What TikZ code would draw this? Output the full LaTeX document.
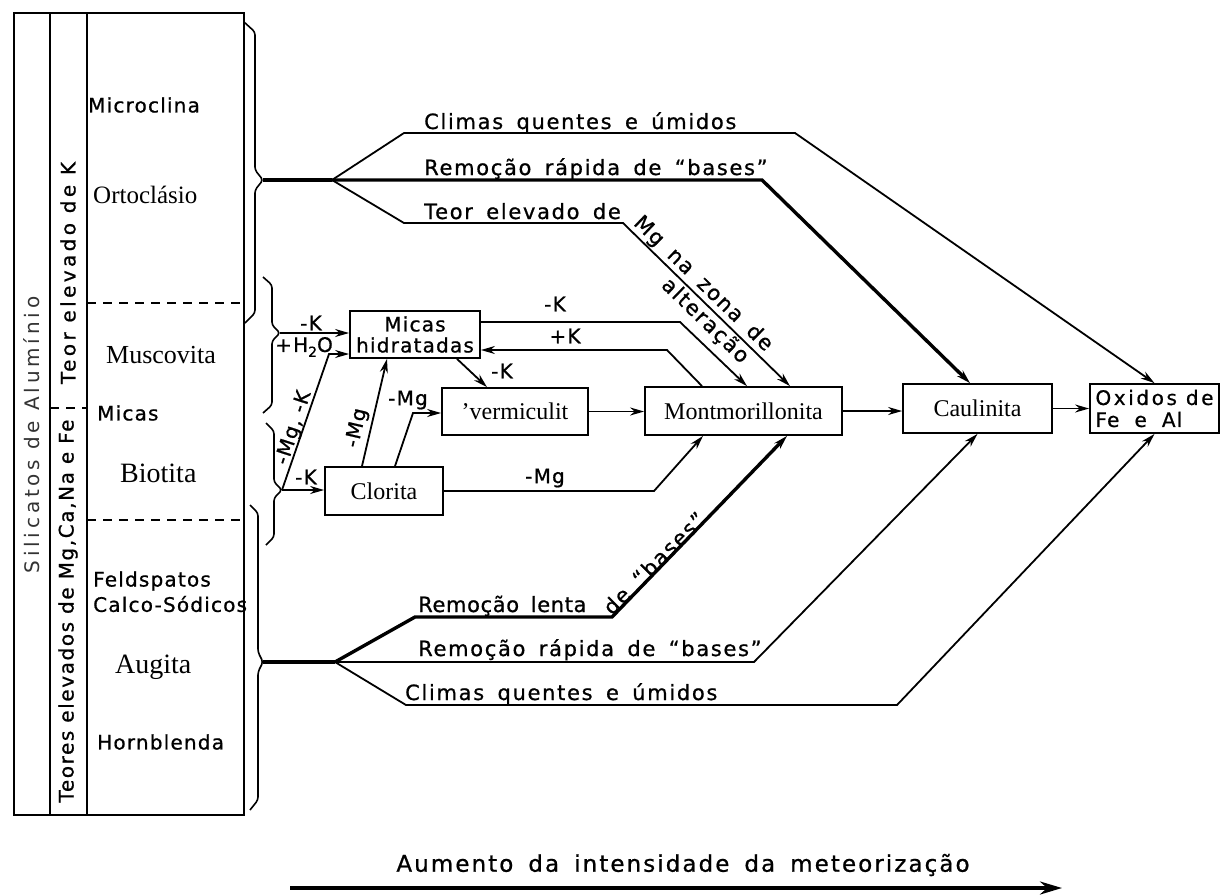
\documentclass[tikz,border=0pt]{standalone}
\usepackage{fontspec}
\setmainfont{Liberation Serif}
\newfontfamily\sfa[LetterSpace=6,FakeBold=0.8]{DejaVu Sans}
\newfontfamily\sfw[LetterSpace=8,WordSpace=1.6,FakeBold=0.8]{DejaVu Sans}
\newfontfamily\sfv[LetterSpace=19]{DejaVu Sans}
\usetikzlibrary{arrows.meta}
\newcommand\subtwo{\raisebox{-5pt}{\fontsize{14}{14}\selectfont 2}}
\begin{document}
\begin{tikzpicture}[x=1pt,y=-1pt,
  tbl/.style={line width=1.8pt},
  dsh/.style={line width=1.6pt, dash pattern=on 9pt off 7pt},
  brc/.style={line width=1.6pt, rounded corners=3pt},
  ln/.style={line width=1.8pt},
  thk/.style={line width=3.4pt},
  arr/.style={-{Stealth[length=14pt,width=8pt]}},
  box/.style={draw, line width=1.8pt, inner sep=0pt, anchor=center, align=center},
  sl/.style={font=\sfa\fontsize{20}{21}\selectfont, inner sep=0pt},
  sw/.style={font=\sfw\fontsize{21}{23}\selectfont, inner sep=0pt},
  ser/.style={font=\fontsize{24}{26}\selectfont, inner sep=0pt},
]
\useasboundingbox (0,0) rectangle (1222,895);
% ---- left table
\draw[tbl] (14,13) rectangle (244,815);
\draw[tbl] (50,13) -- (50,815);
\draw[tbl] (87,13) -- (87,815);
\draw[dsh] (87,303) -- (244,303);
\draw[dsh] (87,520) -- (244,520);
\draw[dsh] (50,408) -- (87,408);
\node[font=\sfv\fontsize{20}{21}\selectfont, inner sep=0pt, rotate=90, text=black!80] (silic) at (32,435) {Silicatos de Alumínio};
\node[sl, rotate=90] (teork) at (68,273) {\addfontfeature{LetterSpace=17}Teor elevado de K};
\node[sl, rotate=90] (teores) at (68,611) {\addfontfeature{LetterSpace=8}Teores elevados de Mg,Ca,Na e Fe};
\node[sl, anchor=west] (microc) at (88,105) {Microclina};
\node[ser, anchor=west, font=\fontsize{25}{27}\selectfont] (ortoc) at (93,195) {Ortoclásio};
\node[ser, anchor=west, font=\fontsize{26}{28}\selectfont] (musc) at (106,355) {Muscovita};
\node[sl, anchor=west] (micasl) at (97,413) {Micas};
\node[ser, anchor=west, font=\fontsize{28}{30}\selectfont] (biot) at (120,473) {Biotita};
\node[sl, anchor=west] (felds) at (93,581) {Feldspatos};
\node[sl, anchor=west] (calco) at (93,604) {Calco-Sódicos};
\node[ser, anchor=west, font=\fontsize{28}{30}\selectfont] (augi) at (115,667) {Augita};
\node[sl, anchor=west] (hornb) at (97,742) {Hornblenda};
% ---- braces
\draw[brc] (244,22) -- (255,32) -- (255,170) -- (263,180) -- (255,190) -- (255,313) -- (245,323);
\draw[brc] (263,277) -- (272,285) -- (272,325) -- (280,333) -- (272,341) -- (272,405) -- (263,413);
\draw[brc] (266,423) -- (274,431) -- (274,482) -- (282,490) -- (274,498) -- (274,537) -- (266,545);
\draw[brc] (250,505) -- (258,513) -- (258,652) -- (263,662) -- (258,672) -- (258,800) -- (250,810);
\coordinate (tipT) at (263,180);
\coordinate (tipM) at (280,333);
\coordinate (tipC) at (282,490);
\coordinate (tipB) at (263,662);
\coordinate (bT) at (332,180);
\coordinate (bB) at (335,662);
\coordinate (h2o) at (329,354);
% ---- boxes
\node[box, minimum width=130pt, minimum height=47pt, font=\sfa\fontsize{20}{21}\selectfont] (micas) at (415,334.5) {Micas\\hidratadas};
\node[box, minimum width=146pt, minimum height=47pt, ser] (verm) at (515,411.5) {'vermiculit};
\node[box, minimum width=197pt, minimum height=48pt, ser] (mont) at (743.5,411) {Montmorillonita};
\node[box, minimum width=149pt, minimum height=49pt, ser] (caul) at (977.5,408.5) {Caulinita};
\node[box, minimum width=129pt, minimum height=49pt, align=left, font=\sfa\fontsize{20}{22}\selectfont] (oxid) at (1154.5,408.5) {\addfontfeature{LetterSpace=13}Oxidos de\\Fe\ \ e\ \ Al};
\node[box, minimum width=118pt, minimum height=48pt, ser] (clor) at (384,491) {Clorita};
% ---- central connectors
\draw[ln,arr] (mont.east) -- (mont.east -| caul.west);
\draw[ln,arr] (caul.east) -- (caul.east -| oxid.west);
\draw[ln,arr] (verm.east) -- (verm.east -| mont.west);
\draw[ln,arr] ([yshift=12.5pt]micas.east) -- (680,322) -- ([xshift=3.5pt]mont.north);
\draw[ln,arr] ([xshift=-41.5pt]mont.north) -- (667,350) -- ([yshift=-15.5pt]micas.east);
\draw[ln,arr] ([xshift=42pt]micas.south) -- ([xshift=-28pt]verm.north);
\draw[ln,arr] ([xshift=-22pt]clor.north) -- ([xshift=-28pt]micas.south);
\draw[ln,arr] ([xshift=11pt]clor.north) -- (413,413) -- ([yshift=-1.5pt]verm.west);
\draw[ln,arr] (clor.east) -- (654,491) -- ([xshift=-40.5pt]mont.south);
\draw[ln,arr] (tipM) -- (tipM -| micas.west);
\draw[ln,arr] (tipC) -- (h2o) -- (h2o -| micas.west);
\draw[ln,arr] (tipC) -- (tipC -| clor.west);
% labels
\node[sl] (lk1) at (555,304) {-K};
\node[sl] (lk2) at (565,336) {+K};
\node[sl] (lk3) at (502,371) {-K};
\node[sl, rotate=77] (lmg1) at (357,428) {-Mg};
\node[sl] (lmg2) at (408,400) {-Mg};
\node[sl] (lmg3) at (545,478) {-Mg};
\node[sl] (lk4) at (311,323) {-K};
\node[sl] (lh2o) at (304,347) {+H\subtwo O};
\node[sl, rotate=72] (lmgk) at (294,428) {-Mg, -K};
\node[sl] (lk5) at (306,477) {-K};
% ---- top group
\draw[thk] (tipT) -- (bT);
\draw[ln,arr] (bT) -- (404,133) -- (795,133) -- (oxid.north);
\draw[thk,arr] (bT) -- (762,180) -- ([xshift=-7.5pt]caul.north);
\draw[ln,arr] (bT) -- (404,223) -- (623,223) -- ([xshift=46.5pt]mont.north);
\node[sw, anchor=base west] (tclim) at (424,129) {Climas quentes e úmidos};
\node[sw, anchor=base west] (trem) at (424,175) {Remoção rápida de “bases”};
\node[sw, anchor=base west] (tteor) at (424,219) {Teor elevado de};
\node[sw, rotate=-44] (tmg) at (703,284) {Mg na zona de};
\node[sw, rotate=-44] (talt) at (705,321) {alteração};
% ---- bottom group
\draw[thk] (tipB) -- (bB);
\draw[thk,arr] (bB) -- (415,617) -- (612,617) -- ([xshift=43.5pt]mont.south);
\draw[ln,arr] (bB) -- (754,662) -- (caul.south);
\draw[ln,arr] (bB) -- (406,705) -- (897,705) -- (oxid.south);
\node[sw, anchor=base west] (blen) at (418,612) {\addfontfeature{LetterSpace=3}Remoção lenta};
\node[sw, rotate=45] (bde) at (654,563) {de “bases”};
\node[sw, anchor=base west] (brap) at (418,656) {Remoção rápida de “bases”};
\node[sw, anchor=base west] (bclim) at (405,700) {Climas quentes e úmidos};
% ---- bottom arrow
\coordinate (a0) at (290,888);
\coordinate (a1) at (1062,888);
\draw[line width=3.6pt, -{Stealth[length=22pt,width=13pt]}] (a0) -- (a1);
\node[sw, font=\sfw\fontsize{23}{25}\selectfont\addfontfeature{LetterSpace=9}] (aum) at (683,865) {Aumento da intensidade da meteorização};
\end{tikzpicture}
\end{document}
